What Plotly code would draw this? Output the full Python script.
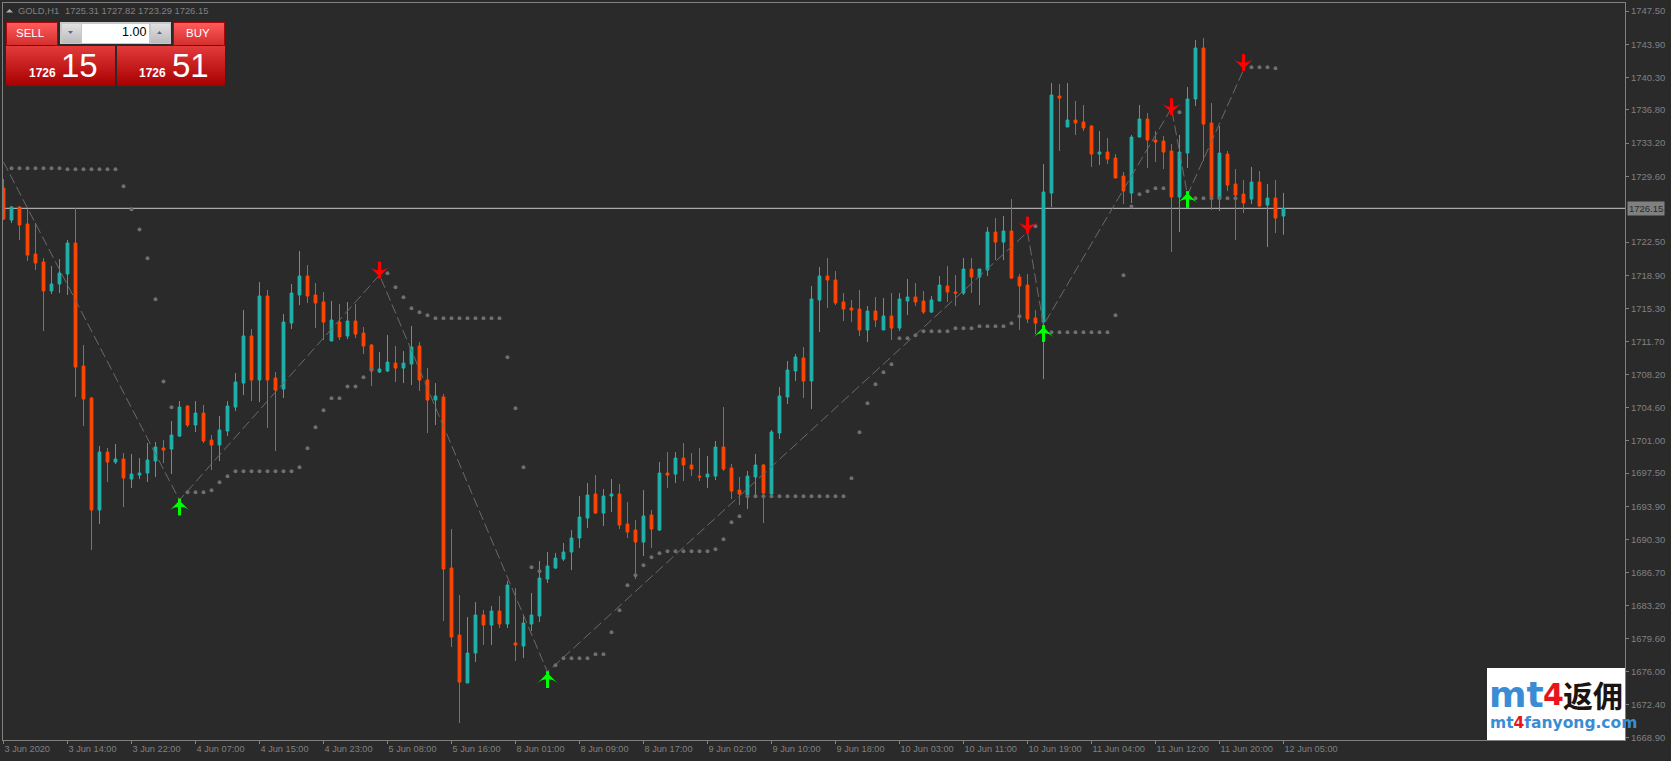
import plotly.graph_objects as go

# GOLD H1
opens = [
    1728.34, 1724.88, 1726.29, 1724.45, 1721.20, 1720.34, 1717.20, 1717.96, 1719.04, 1722.39,
    1709.08, 1705.62, 1693.50, 1699.77, 1698.69, 1699.02, 1696.85, 1697.28, 1697.50, 1698.80,
    1700.21, 1700.10, 1701.50, 1704.75, 1702.70, 1703.99, 1701.07, 1700.53, 1702.05, 1704.64,
    1707.24, 1712.33, 1707.57, 1716.66, 1707.78, 1706.59, 1713.73, 1716.77, 1718.82, 1716.77,
    1716.01, 1711.79, 1713.84, 1712.33, 1713.95, 1712.65, 1711.35, 1708.43, 1708.54, 1709.40,
    1708.86, 1709.30, 1711.25, 1707.57, 1705.40, 1705.73, 1687.22, 1679.97, 1674.78, 1678.02,
    1682.13, 1681.05, 1682.57, 1681.16, 1679.10, 1678.78, 1681.16, 1682.03, 1686.03, 1687.22,
    1688.19, 1688.95, 1690.47, 1692.63, 1695.23, 1693.17, 1695.01, 1695.23, 1691.98, 1691.33,
    1690.03, 1692.96, 1691.33, 1697.50, 1697.39, 1699.12, 1698.37, 1697.17, 1697.07, 1697.17,
    1700.32, 1698.04, 1695.66, 1695.12, 1697.07, 1698.37, 1695.23, 1701.83, 1705.73, 1708.54,
    1709.95, 1707.46, 1716.23, 1718.82, 1718.39, 1716.01, 1715.36, 1715.25, 1712.98, 1715.03,
    1712.98, 1714.49, 1713.19, 1716.12, 1716.55, 1716.12, 1714.92, 1716.12, 1717.74, 1717.09,
    1716.98, 1719.58, 1718.71, 1719.47, 1723.58, 1722.50, 1723.69, 1718.71, 1717.85, 1714.28,
    1713.84, 1727.80, 1738.30, 1734.95, 1735.70, 1735.49, 1735.05, 1732.02, 1732.24, 1731.59,
    1729.64, 1727.80, 1733.86, 1735.81, 1733.54, 1733.43, 1732.35, 1727.37, 1732.13, 1737.98,
    1743.50, 1735.38, 1727.26, 1732.02, 1728.78, 1727.69, 1727.15, 1728.99, 1726.50, 1727.26,
    1725.31,
]
highs = [
    1729.32, 1726.40, 1726.40, 1726.07, 1724.56, 1720.77, 1719.90, 1720.66, 1722.72, 1726.18,
    1711.35, 1705.73, 1700.42, 1700.21, 1700.64, 1699.66, 1699.56, 1699.12, 1700.75, 1700.86,
    1701.07, 1703.13, 1705.29, 1704.85, 1705.29, 1704.86, 1701.61, 1703.67, 1705.29, 1708.32,
    1715.14, 1713.09, 1718.17, 1717.31, 1708.43, 1714.71, 1717.96, 1721.53, 1720.01, 1718.06,
    1717.09, 1716.12, 1715.79, 1716.01, 1715.79, 1713.30, 1711.46, 1710.60, 1712.44, 1711.25,
    1710.70, 1713.41, 1711.68, 1708.86, 1707.24, 1706.05, 1691.44, 1684.30, 1681.92, 1683.54,
    1682.67, 1683.11, 1684.19, 1685.81, 1685.06, 1682.03, 1684.52, 1687.98, 1688.95, 1688.85,
    1689.93, 1691.33, 1695.01, 1696.42, 1697.28, 1695.77, 1696.85, 1696.31, 1694.36, 1692.42,
    1695.66, 1693.50, 1698.69, 1699.77, 1699.77, 1700.75, 1699.66, 1700.21, 1699.34, 1700.97,
    1704.64, 1698.48, 1697.07, 1697.72, 1699.56, 1698.48, 1702.16, 1706.81, 1709.62, 1710.38,
    1711.14, 1717.74, 1719.80, 1720.77, 1719.36, 1716.98, 1716.23, 1717.31, 1715.58, 1716.55,
    1716.44, 1716.98, 1716.98, 1718.50, 1718.06, 1717.20, 1716.66, 1718.82, 1719.90, 1718.93,
    1720.77, 1720.77, 1719.58, 1724.12, 1725.10, 1725.31, 1727.15, 1719.04, 1719.04, 1715.14,
    1730.94, 1739.71, 1739.60, 1739.71, 1737.76, 1737.33, 1735.16, 1734.51, 1733.76, 1732.02,
    1730.08, 1734.08, 1737.33, 1736.46, 1734.51, 1733.97, 1733.11, 1734.08, 1739.27, 1744.36,
    1744.58, 1737.54, 1735.05, 1732.35, 1730.40, 1729.21, 1730.62, 1730.18, 1728.78, 1729.21,
    1727.82,
]
lows = [
    1724.88, 1724.56, 1722.72, 1720.45, 1719.47, 1712.87, 1716.87, 1716.98, 1716.77, 1705.73,
    1702.59, 1689.17, 1691.98, 1696.53, 1698.48, 1693.82, 1695.88, 1696.85, 1696.53, 1697.07,
    1698.58, 1697.39, 1701.40, 1702.48, 1701.94, 1700.75, 1697.82, 1698.80, 1701.50, 1704.21,
    1705.94, 1705.29, 1705.19, 1702.37, 1699.88, 1705.62, 1713.09, 1715.68, 1715.90, 1713.19,
    1711.90, 1711.79, 1711.90, 1712.00, 1712.11, 1710.38, 1706.92, 1708.32, 1708.43, 1707.35,
    1707.24, 1707.03, 1706.38, 1701.83, 1702.70, 1681.48, 1678.67, 1670.45, 1674.78, 1677.05,
    1678.89, 1678.89, 1680.73, 1680.73, 1677.16, 1677.48, 1680.40, 1681.38, 1685.60, 1687.11,
    1687.98, 1687.00, 1689.38, 1691.55, 1693.07, 1691.77, 1693.28, 1691.44, 1690.47, 1686.03,
    1688.52, 1689.38, 1691.22, 1695.88, 1696.42, 1696.64, 1697.17, 1696.64, 1695.88, 1696.74,
    1697.72, 1694.69, 1694.04, 1693.61, 1695.12, 1692.09, 1695.12, 1701.18, 1704.97, 1707.46,
    1705.62, 1704.43, 1712.76, 1715.36, 1715.68, 1713.95, 1713.84, 1712.33, 1711.68, 1713.30,
    1712.98, 1711.90, 1712.87, 1714.60, 1715.58, 1714.71, 1714.82, 1716.12, 1716.01, 1715.58,
    1716.77, 1716.98, 1715.68, 1718.82, 1720.55, 1720.55, 1718.50, 1712.98, 1713.73, 1712.54,
    1707.67, 1726.29, 1732.35, 1734.95, 1734.08, 1734.51, 1730.62, 1730.83, 1730.94, 1729.43,
    1726.61, 1726.72, 1733.86, 1730.51, 1731.16, 1730.40, 1721.42, 1723.58, 1730.51, 1737.22,
    1731.27, 1725.96, 1725.86, 1728.02, 1722.72, 1725.64, 1726.61, 1726.29, 1721.96, 1723.48,
    1723.29,
]
closes = [
    1724.99, 1726.29, 1724.34, 1721.09, 1720.23, 1717.20, 1717.96, 1719.15, 1722.39, 1708.97,
    1705.51, 1693.50, 1699.77, 1698.69, 1699.02, 1696.96, 1697.39, 1697.50, 1698.91, 1700.32,
    1699.99, 1701.61, 1704.64, 1702.70, 1703.99, 1700.97, 1700.53, 1702.16, 1704.75, 1707.35,
    1712.33, 1707.57, 1716.66, 1707.57, 1706.48, 1713.84, 1716.98, 1718.82, 1716.66, 1715.90,
    1713.84, 1714.06, 1712.22, 1713.95, 1712.54, 1711.25, 1708.54, 1708.76, 1709.51, 1708.86,
    1709.40, 1711.14, 1707.57, 1705.40, 1705.84, 1687.11, 1679.75, 1674.88, 1678.02, 1682.13,
    1681.05, 1682.57, 1681.16, 1685.38, 1678.89, 1681.27, 1682.13, 1686.14, 1687.44, 1688.30,
    1688.95, 1690.47, 1692.74, 1695.12, 1693.17, 1695.01, 1695.23, 1691.87, 1691.12, 1690.03,
    1692.85, 1691.44, 1697.50, 1697.28, 1699.12, 1698.37, 1697.93, 1697.07, 1697.39, 1700.32,
    1697.93, 1695.55, 1695.23, 1697.17, 1698.37, 1695.34, 1701.94, 1705.84, 1708.65, 1710.06,
    1707.46, 1716.33, 1718.82, 1718.39, 1715.90, 1715.25, 1715.14, 1712.98, 1715.03, 1714.06,
    1714.49, 1713.19, 1716.33, 1716.55, 1716.01, 1714.92, 1716.23, 1717.85, 1717.09, 1716.98,
    1719.58, 1718.71, 1719.58, 1723.58, 1722.50, 1723.69, 1718.60, 1717.74, 1714.17, 1713.73,
    1727.91, 1738.41, 1738.08, 1735.70, 1735.38, 1734.84, 1732.02, 1732.24, 1731.48, 1729.43,
    1728.02, 1733.86, 1735.81, 1733.54, 1733.32, 1732.24, 1727.37, 1732.24, 1737.98, 1743.50,
    1735.27, 1727.37, 1732.13, 1728.67, 1727.59, 1726.72, 1728.99, 1726.40, 1727.26, 1725.10,
    1726.15,
]

# puncte gri (indice bara, pret)
dot_bars = (
    list(range(1, 22)) + list(range(23, 47)) + list(range(48, 68)) + list(range(69, 128))
    + [129] + list(range(131, 146)) + [147] + list(range(149, 155)) + list(range(156, 160))
)
dot_prices = (
    [1730.48] * 7 + [1730.37] * 7
    + [1728.53, 1726.04, 1723.87, 1720.74, 1716.30, 1707.42, 1704.61]
    + [1695.41] * 3 + [1695.63, 1696.50, 1697.15] + [1697.69] * 8
    + [1698.12, 1700.18, 1702.45, 1704.29, 1705.59, 1705.59, 1706.88, 1706.88, 1707.86, 1708.79]
    + [1719.11, 1717.60, 1716.52, 1715.33, 1714.89, 1714.57] + [1714.24] * 9
    + [1710.02, 1704.50, 1698.12, 1687.30, 1686.87]
    + [1676.69] + [1677.45] * 4 + [1677.88] * 2
    + [1680.26, 1682.64, 1685.35, 1686.43, 1687.51, 1688.38, 1688.81]
    + [1689.03] * 6 + [1689.24, 1690.33, 1692.17, 1692.82] + [1694.98] * 13
    + [1696.93, 1701.91, 1705.05, 1707.10, 1708.40, 1709.27, 1712.08, 1712.08, 1712.40]
    + [1712.84] * 4 + [1713.16] * 3 + [1713.38] * 4 + [1713.70, 1714.46]
    + [1724.20]
    + [1712.73] * 8 + [1714.57, 1718.90, 1726.36, 1727.66, 1727.99, 1728.31, 1728.31]
    + [1736.54]
    + [1727.23] * 6
    + [1741.41] * 3 + [1741.30]
)

# zigzag
zz_bars = [0, 22, 47, 68, 128, 130, 146, 148, 155]
zz_prices = [1731.16, 1694.58, 1718.93, 1675.97, 1723.58, 1713.52, 1736.99, 1727.59, 1741.11]

# sageti: centrul tijei si varful
up_bars = [22, 68, 130, 148]
up_prices = [1693.82, 1675.15, 1712.60, 1727.10]
up_tips = [1694.52, 1675.85, 1713.30, 1727.80]
down_bars = [47, 128, 146, 155]
down_prices = [1719.47, 1724.34, 1737.16, 1741.93]
down_tips = [1718.77, 1723.64, 1736.46, 1741.23]

x_labels = [
    "3 Jun 2020", "3 Jun 14:00", "3 Jun 22:00", "4 Jun 07:00", "4 Jun 15:00", "4 Jun 23:00",
    "5 Jun 08:00", "5 Jun 16:00", "8 Jun 01:00", "8 Jun 09:00", "8 Jun 17:00", "9 Jun 02:00",
    "9 Jun 10:00", "9 Jun 18:00", "10 Jun 03:00", "10 Jun 11:00", "10 Jun 19:00",
    "11 Jun 04:00", "11 Jun 12:00", "11 Jun 20:00", "12 Jun 05:00",
]
y_ticks = [
    1747.50, 1743.90, 1740.30, 1736.80, 1733.20, 1729.60, 1722.50, 1718.90, 1715.30, 1711.70,
    1708.20, 1704.60, 1701.00, 1697.50, 1693.90, 1690.30, 1686.70, 1683.20, 1679.60, 1676.00,
    1672.40, 1668.90,
]
last_price = 1726.15

W, H = 1671, 761
ML, MR, MT, MB = 3, 46, 3, 21
BG = "#2a2a2a"
GREY = "#808080"
TEAL = "#20b2aa"
ORANGE = "#ff4500"
FONT = "Liberation Sans"


def px(v):
    return (v - ML) / (W - ML - MR)


def py(v):
    return 1 - (v - MT) / (H - MT - MB)


shapes = []
annots = []


def box(x0, y0, x1, y1, color, line=None):
    shapes.append(dict(
        type="rect", xref="paper", yref="paper", layer="above",
        x0=px(x0), x1=px(x1), y0=py(y0), y1=py(y1),
        fillcolor=color, line=dict(width=1 if line else 0, color=line or color),
    ))


def gradient(x0, y0, x1, y1, top, bottom):
    # banda cu banda, shapes nu au gradient
    n = int(y1 - y0)
    a = [int(top[i:i + 2], 16) for i in (1, 3, 5)]
    b = [int(bottom[i:i + 2], 16) for i in (1, 3, 5)]
    for k in range(n):
        t = k / max(n - 1, 1)
        c = [round(a[j] + (b[j] - a[j]) * t) for j in range(3)]
        box(x0, y0 + k, x1, y0 + k + 1, "#%02x%02x%02x" % tuple(c))


def label(x, y, text, size, color, anchor="left", family=FONT):
    annots.append(dict(
        xref="paper", yref="paper", x=px(x), y=py(y), text=text, showarrow=False,
        xanchor=anchor, yanchor="middle", borderpad=0, borderwidth=0,
        font=dict(family=family, size=size, color=color),
    ))


def triangle(x0, y0, x1, y1, x2, y2, color):
    shapes.append(dict(
        type="path", xref="paper", yref="paper", layer="above",
        path=f"M {px(x0)} {py(y0)} L {px(x1)} {py(y1)} L {px(x2)} {py(y2)} Z",
        fillcolor=color, line=dict(width=0),
    ))


# linia de pret
shapes.append(dict(
    type="line", xref="paper", yref="y", layer="below",
    x0=0, x1=1, y0=last_price, y1=last_price, line=dict(color="#c8c8c8", width=1),
))

# panou one click
triangle(6, 12.5, 13, 12.5, 9.5, 9, "#b0b0b0")
label(18, 10.5, "GOLD,H1", 9.4, GREY)
label(65, 10.5, "1725.31 1727.82 1723.29 1726.15", 9.4, GREY)

box(6, 22, 58, 46, "#a80808")
gradient(7, 23, 57, 45, "#ff5a5a", "#d43030")
box(10, 45, 54, 46, "#8c0000")
box(173, 22, 225, 46, "#a80808")
gradient(174, 23, 224, 45, "#ff5a5a", "#d43030")
box(177, 45, 221, 46, "#8c0000")
gradient(6, 46, 115, 86, "#e23a3a", "#a80000")
gradient(117, 46, 225, 86, "#e23a3a", "#a80000")

box(60, 22, 171, 44, "#c8c8c8")
box(82, 24, 149, 43, "#ffffff")
gradient(62, 24, 81, 43, "#e0e0e0", "#bcbcbc")
gradient(151, 24, 170, 43, "#e0e0e0", "#bcbcbc")
triangle(68, 31, 73, 31, 70.5, 34, "#5a62a8")
triangle(157, 34, 162, 34, 159.5, 31, "#5a62a8")

label(31, 33.5, "SELL", 11.5, "#ffffff", "center")
label(198, 33.5, "BUY", 11.5, "#ffffff", "center")
label(146, 32.5, "1.00", 12.5, "#000000", "right")
label(29, 73, "<b>1726</b>", 12, "#ffffff")
label(61, 65, "15", 33, "#ffffff")
label(139, 73, "<b>1726</b>", 12, "#ffffff")
label(172, 65, "51", 33, "#ffffff")

# logo
box(1487, 668, 1625, 740, "#ffffff")
label(1489, 694, "<b>mt</b>", 36, "#3a8dd4", family="DejaVu Sans")
label(1543, 694, "<b>4</b>", 30, "#e8141c", family="DejaVu Sans")
label(1563, 694, "<b>返佣</b>", 30, "#1c1410", family="Noto Sans CJK SC")
label(
    1490, 722.5,
    '<b>mt<span style="color:#e8141c">4</span>fanyong.com</b>',
    15.5, "#3a8dd4", family="DejaVu Sans",
)

# eticheta pretului curent
annots.append(dict(
    xref="paper", yref="y", x=px(1627), y=last_price, text=f"{last_price:.2f}",
    showarrow=False, xanchor="left", yanchor="middle",
    bgcolor=GREY, borderpad=1, font=dict(family=FONT, size=9.5, color="#2a2a2a"),
))

fig = go.Figure()

fig.add_trace(go.Candlestick(
    x=list(range(len(opens))),
    open=opens, high=highs, low=lows, close=closes,
    increasing=dict(line=dict(color=TEAL, width=1), fillcolor=TEAL),
    decreasing=dict(line=dict(color=ORANGE, width=1), fillcolor=ORANGE),
    whiskerwidth=0,
    showlegend=False,
))
fig.add_trace(go.Scatter(
    x=zz_bars, y=zz_prices, mode="lines",
    line=dict(color="#6a6a6a", width=1, dash="10px,4px"),
    showlegend=False,
))
fig.add_trace(go.Scatter(
    x=dot_bars, y=dot_prices, mode="markers",
    marker=dict(color="#6e6e6e", size=4, symbol="circle"),
    showlegend=False,
))

# sageata = tija + cap
for bars, centers, tips, color, angle in [
    (up_bars, up_prices, up_tips, "#00ff00", 0),
    (down_bars, down_prices, down_tips, "#ff0000", 180),
]:
    fig.add_trace(go.Scatter(
        x=bars, y=centers, mode="markers",
        marker=dict(symbol="line-ns", size=12, line=dict(color=color, width=3)),
        showlegend=False,
    ))
    fig.add_trace(go.Scatter(
        x=bars, y=tips, mode="markers",
        marker=dict(symbol="arrow-wide", size=15, angle=angle, color=color, line=dict(width=0)),
        showlegend=False,
    ))

fig.update_layout(
    width=W,
    height=H,
    margin=dict(l=ML, r=MR, t=MT, b=MB, pad=0),
    paper_bgcolor=BG,
    plot_bgcolor=BG,
    boxgap=0.5,
    showlegend=False,
    shapes=shapes,
    annotations=annots,
    xaxis=dict(
        range=[-0.0625, 202.69],
        rangeslider=dict(visible=False),
        tickmode="array",
        tickvals=list(range(0, 161, 8)),
        ticktext=x_labels,
        ticks="outside", ticklen=3, tickcolor=GREY, tickwidth=1,
        ticklabelposition="outside right",
        tickangle=0,
        showgrid=False, zeroline=False,
        showline=True, linecolor=GREY, linewidth=1, mirror=True,
        tickfont=dict(family=FONT, size=9.2, color=GREY),
    ),
    yaxis=dict(
        side="right",
        range=[1668.61, 1748.37],
        tickmode="array",
        tickvals=y_ticks,
        ticktext=[f"{v:.2f}" for v in y_ticks],
        ticks="outside", ticklen=3, tickcolor=GREY, tickwidth=1,
        showgrid=False, zeroline=False,
        showline=True, linecolor=GREY, linewidth=1, mirror=True,
        tickfont=dict(family=FONT, size=9.5, color=GREY),
    ),
)

fig.write_html(
    "out.html",
    config={"displayModeBar": False},
    post_script="document.body.style.margin='0';document.body.style.overflow='hidden';",
)
